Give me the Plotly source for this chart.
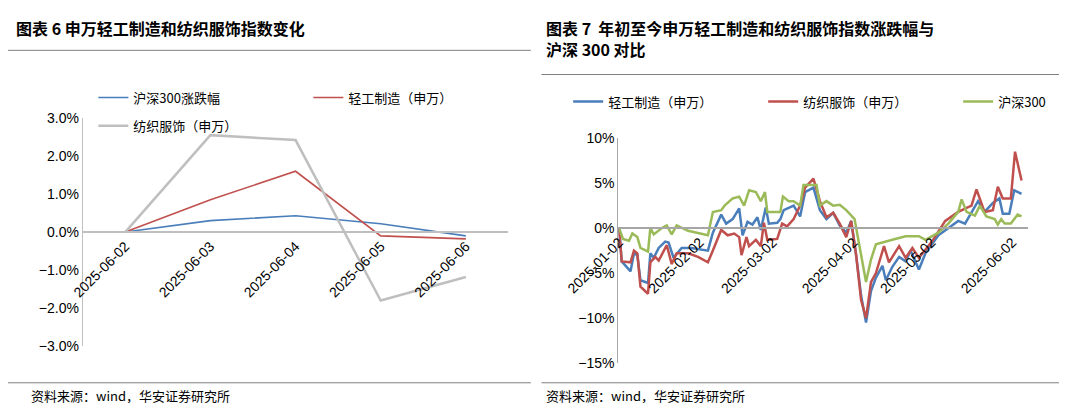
import datetime as dt
import plotly.graph_objects as go

# 图表6 数据（日度涨跌幅）
left_dates = ["2025-06-02", "2025-06-03", "2025-06-04", "2025-06-05", "2025-06-06"]
hs300_chg = [0.0, 0.30, 0.43, 0.22, -0.10]
light_chg = [0.0, 0.85, 1.60, -0.10, -0.18]
textile_chg = [0.0, 2.55, 2.42, -1.80, -1.18]

# 图表7 数据（年初至今累计涨跌幅，横轴为距 2025-01-02 的天数）
light_day = [0, 1, 4.4, 5.7, 7, 8.2, 11.1, 12, 13.3, 15.2, 17.7, 19, 20.9, 24, 27.8, 34.1, 36,
             39.2, 41.1, 43.6, 46.1, 47.4, 49.3, 51.2, 53.1, 54.4, 56.3, 57.5, 60.7, 61.9, 63.2,
             67, 69.5, 71.4, 74.6, 77.1, 79.6, 82.2, 84.7, 87.2, 89.1, 91, 92.9, 94.8, 96.7, 98.6,
             101.1, 102.4, 104.9, 107.5, 110, 111.9, 115.1, 117.6, 122.6, 126.4, 130.2, 132.8,
             137.8, 140.3, 143.5, 146, 147.3, 149.8, 151.7, 154.5]
light_val = [0, -3.7, -4.8, -2.8, -3.0, -5.8, -6.1, -2.8, -3.3, -2.2, -1.5, -1.6, -3.3, -2.2, -2.2,
             -2.5, -0.5, 1.5, 0.5, 1.0, 2.2, -0.8, 0.7, 0.4, 1.2, -0.2, 2.3, 0.5, 0.6, 1.0, 2.0,
             2.5, 1.3, 4.0, 4.5, 2.0, 1.0, 1.7, 0.3, -0.5, 0.8, -3.0, -7.5, -10.5, -7.0, -5.5,
             -4.2, -5.8, -4.3, -3.2, -3.7, -2.5, -4.6, -2.8, -0.8, 0.0, 0.8, 0.5, 3.0, 1.8, 2.8,
             3.3, 1.6, 1.6, 4.2, 3.8]

textile_day = [0, 1, 4.4, 5.7, 7, 8.2, 11.1, 12, 13.9, 15.2, 18.3, 20.2, 22.1, 26.5, 30.3, 34.1,
               36, 39.2, 41.7, 44.2, 46.1, 47, 48.9, 49.9, 52.5, 54.4, 55.6, 56.9, 60.7, 62.6,
               64.5, 67, 69.5, 71.4, 74.6, 77.1, 79.6, 82.2, 84.7, 87.2, 89.1, 91, 92.9, 94.8,
               96.7, 98.6, 101.7, 103.6, 107.5, 110, 112.6, 115.1, 120.1, 125.2, 130.2, 135.3,
               137.2, 140.3, 143.5, 145.4, 147.3, 150.4, 152, 154.5]
textile_val = [0, -3.7, -3.8, -2.5, -2.8, -6.5, -7.3, -3.8, -3.2, -3.6, -1.9, -4.0, -2.8, -2.8,
               -3.2, -3.8, -2.5, -0.2, -0.8, -0.6, -1.0, -3.0, -1.0, -2.0, -1.3, -2.0, 0.6, -1.3,
               -1.2, 0.5, 0.2, 1.0, 2.5, 4.5, 5.5, 3.0, 1.2, 1.7, 0.5, -1.0, 0.8, -3.0, -8.0,
               -10.0, -6.0, -5.0, -2.0, -3.8, -2.0, -3.3, -2.2, -3.3, -1.5, 0.8, 1.8, 2.5, 4.3,
               1.8, 2.0, 4.6, 3.3, 3.3, 8.5, 5.3]

hs_day = [0, 1.5, 3.8, 5.1, 7, 8.2, 11.1, 12, 13.3, 16.4, 18.3, 20.2, 22.1, 26.5, 34.1, 36, 39.2,
          40.5, 43.6, 46.1, 48, 49.9, 52.5, 54.4, 56, 56.9, 61.9, 62.9, 65.1, 67, 69.5, 70.8,
          75.8, 77.1, 79.6, 82.2, 84.7, 87.2, 90.4, 92.9, 94.8, 96.7, 98.6, 104.9, 110, 115.1,
          117.6, 122.6, 126.4, 130.2, 131.5, 133.4, 136.6, 138.5, 141, 144.2, 145.4, 146.7,
          148, 150.4, 153, 154.5]
hs_val = [0, -1.2, -1.4, -0.6, -1.0, -2.2, -2.6, 0.0, -0.7, 0.0, 0.3, -0.7, 0.3, -0.3, -0.8,
          1.8, 2.0, 2.5, 3.3, 3.5, 2.5, 4.2, 4.0, 3.0, 4.0, 1.8, 1.8, 3.5, 3.0, 3.0, 2.5, 4.8,
          4.8, 2.5, 3.0, 2.5, 2.6, 2.0, 1.0, -3.0, -6.0, -3.5, -1.8, -1.3, -0.9, -0.9, -1.3,
          -0.5, 0.5, 1.8, 3.2, 1.8, 1.4, 2.5, 1.3, 1.0, 0.4, 1.0, 0.5, 0.5, 1.5, 1.3]

right_ticks = ["2025-01-02", "2025-02-02", "2025-03-02", "2025-04-02", "2025-05-02", "2025-06-02"]

BLUE, RED, GRAY, GREEN = "#4a7ebb", "#c0504d", "#bfbfbf", "#9bbb59"
FONT = "Noto Sans CJK SC"
start = dt.datetime(2025, 1, 2)
to_dates = lambda days: [start + dt.timedelta(days=d) for d in days]

fig = go.Figure()
fig.add_trace(go.Scatter(x=left_dates, y=hs300_chg, name="沪深300涨跌幅", mode="lines",
                         line=dict(color=BLUE, width=1.6), xaxis="x", yaxis="y", legend="legend"))
fig.add_trace(go.Scatter(x=left_dates, y=light_chg, name="轻工制造（申万）", mode="lines",
                         line=dict(color=RED, width=1.6), xaxis="x", yaxis="y", legend="legend"))
fig.add_trace(go.Scatter(x=left_dates, y=textile_chg, name="纺织服饰（申万）", mode="lines",
                         line=dict(color=GRAY, width=2.5), xaxis="x", yaxis="y", legend="legend3"))

fig.add_trace(go.Scatter(x=to_dates(light_day), y=light_val, name="轻工制造（申万）", mode="lines",
                         line=dict(color=BLUE, width=2.5), xaxis="x2", yaxis="y2", legend="legend2"))
fig.add_trace(go.Scatter(x=to_dates(textile_day), y=textile_val, name="纺织服饰（申万）", mode="lines",
                         line=dict(color=RED, width=2.5), xaxis="x2", yaxis="y2", legend="legend2"))
fig.add_trace(go.Scatter(x=to_dates(hs_day), y=hs_val, name="沪深300", mode="lines",
                         line=dict(color=GREEN, width=2.5), xaxis="x2", yaxis="y2", legend="legend2"))

tickfont = dict(family="Liberation Sans", size=14, color="#000")
legfont = dict(size=13, color="#000")
fig.update_layout(
    width=1067, height=403, margin=dict(l=0, r=0, t=0, b=0, autoexpand=False),
    paper_bgcolor="white", plot_bgcolor="white", font=dict(family=FONT, color="#000"),
    xaxis=dict(domain=[0.070, 0.469], type="category", range=[-0.5, 4.5], anchor="free",
               position=0.444, showline=True, linecolor="#bfbfbf", linewidth=1.5,
               ticks="", tickangle=-45, tickfont=tickfont, showgrid=False, automargin=False),
    yaxis=dict(domain=[0.161, 0.727], range=[-3, 3], dtick=1, tickformat=".1f", ticksuffix="%",
               showline=True, linecolor="#bfbfbf", ticks="", showgrid=False, zeroline=False,
               tickfont=tickfont, automargin=False),
    xaxis2=dict(domain=[0.572, 0.956], type="date", anchor="free", position=0.454,
                range=[start - dt.timedelta(days=0.3), start + dt.timedelta(days=157)],
                tickvals=right_ticks, ticktext=right_ticks, tickangle=-45, tickfont=tickfont,
                showline=True, linecolor="#a6a6a6", linewidth=1.5, ticks="", showgrid=False,
                automargin=False),
    yaxis2=dict(domain=[0.119, 0.677], range=[-15, 10], dtick=5, ticksuffix="%",
                showline=True, linecolor="#a6a6a6", ticks="", showgrid=False, zeroline=False,
                tickfont=tickfont, anchor="x2", automargin=False),
    legend=dict(orientation="h", x=0.08, y=0.815, xanchor="left", yanchor="top",
                font=legfont, entrywidth=170, bgcolor="rgba(0,0,0,0)"),
    legend3=dict(orientation="h", x=0.08, y=0.745, xanchor="left", yanchor="top",
                 font=legfont, bgcolor="rgba(0,0,0,0)"),
    legend2=dict(orientation="h", x=0.525, y=0.805, xanchor="left", yanchor="top",
                 font=legfont, entrywidth=150, bgcolor="rgba(0,0,0,0)"),
    annotations=[
        dict(text="<b>图表 6 申万轻工制造和纺织服饰指数变化</b>", x=0.006, y=0.985, xref="paper",
             yref="paper", xanchor="left", yanchor="top", showarrow=False, font=dict(size=16)),
        dict(text="<b>图表 7  年初至今申万轻工制造和纺织服饰指数涨跌幅与<br>沪深 300 对比</b>",
             x=0.502, y=0.985, xref="paper", yref="paper", xanchor="left", yanchor="top",
             showarrow=False, align="left", font=dict(size=16)),
        dict(text="资料来源：wind，华安证券研究所", x=0.02, y=0.01, xref="paper", yref="paper",
             xanchor="left", yanchor="bottom", showarrow=False, font=dict(size=13)),
        dict(text="资料来源：wind，华安证券研究所", x=0.502, y=0.01, xref="paper", yref="paper",
             xanchor="left", yanchor="bottom", showarrow=False, font=dict(size=13)),
    ],
    shapes=[
        dict(type="line", xref="paper", yref="paper", x0=0.0, x1=0.49, y0=0.895, y1=0.895,
             line=dict(color="#7f7f7f", width=1)),
        dict(type="line", xref="paper", yref="paper", x0=0.50, x1=1.0, y0=0.835, y1=0.835,
             line=dict(color="#7f7f7f", width=1)),
        dict(type="line", xref="paper", yref="paper", x0=0.0, x1=0.49, y0=0.07, y1=0.07,
             line=dict(color="#7f7f7f", width=1)),
        dict(type="line", xref="paper", yref="paper", x0=0.50, x1=1.0, y0=0.07, y1=0.07,
             line=dict(color="#7f7f7f", width=1)),
    ],
)
fig.write_html("out.html")
